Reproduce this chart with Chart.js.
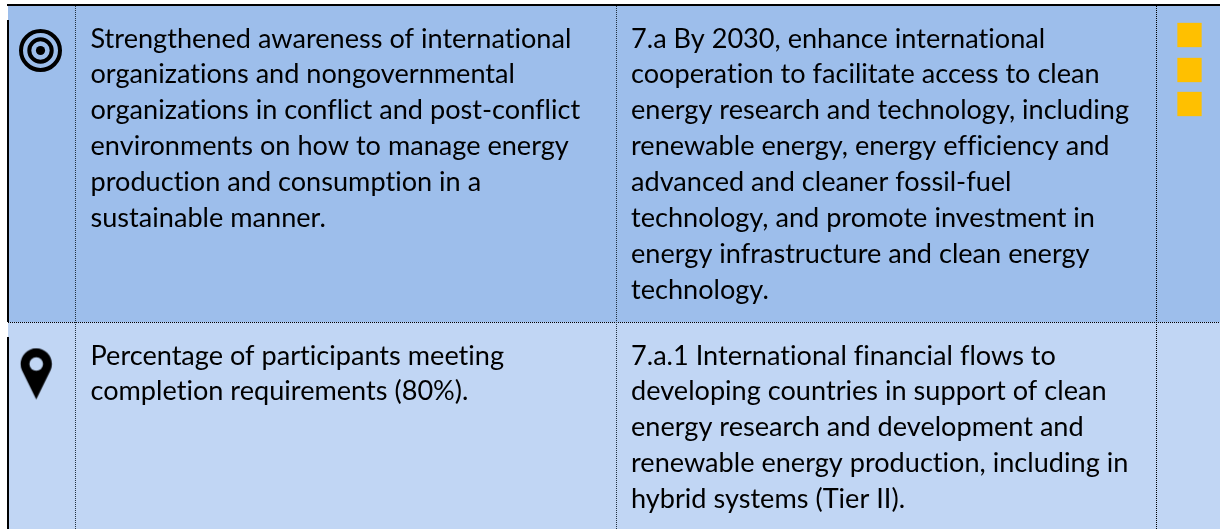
<!DOCTYPE html>
<html>
<head>
<meta charset="utf-8">
<style>
  html, body { margin: 0; padding: 0; background: #fff; }
  canvas { display: block; }
</style>
<script src="https://cdn.jsdelivr.net/npm/chart.js@4/dist/chart.umd.min.js"></script>
</head>
<body>
<canvas id="chart" width="1220" height="529"></canvas>
<script>
// text of the four cells
const goalLines = [
  'Strengthened awareness of international',
  'organizations and nongovernmental',
  'organizations in conflict and post-conflict',
  'environments on how to manage energy',
  'production and consumption in a',
  'sustainable manner.'
];
const targetLines = [
  '7.a By 2030, enhance international',
  'cooperation to facilitate access to clean',
  'energy research and technology, including',
  'renewable energy, energy efficiency and',
  'advanced and cleaner fossil-fuel',
  'technology, and promote investment in',
  'energy infrastructure and clean energy',
  'technology.'
];
const indicatorLines = [
  'Percentage of participants meeting',
  'completion requirements (80%).'
];
const targetIndicatorLines = [
  '7.a.1 International financial flows to',
  'developing countries in support of clean',
  'energy research and development and',
  'renewable energy production, including in',
  'hybrid systems (Tier II).'
];

// table grid, in picture units
const rowEdges = [6, 322.5, 529];
const columnEdges = [8, 75.5, 616.5, 1156.5, 1220];
const ratingX = [1189.5, 1189.5, 1189.5];
const ratingY = [35, 70, 104];

const COLOR_ROW_1 = '#9dbeeb';
const COLOR_ROW_2 = '#c1d6f4';
const COLOR_RATING = '#ffc000';
const LINE_HEIGHT = 35.95;

// pin icon used as a point style
function makePin() {
  const c = document.createElement('canvas');
  c.width = 33;
  c.height = 53;
  const p = c.getContext('2d');
  p.fillStyle = '#000';
  p.beginPath();
  p.arc(16.5, 16.5, 15.6, Math.PI * 0.87, Math.PI * 0.13);
  p.lineTo(16.5, 52);
  p.closePath();
  p.fill();
  p.globalCompositeOperation = 'destination-out';
  p.beginPath();
  p.arc(16.5, 16.5, 6.8, 0, Math.PI * 2);
  p.fill();
  return c;
}

function band(top, bottom, color) {
  return {
    data: [{ x: columnEdges[0], y: top }, { x: columnEdges[4], y: top }],
    showLine: true, pointRadius: 0, borderWidth: 0,
    fill: { value: bottom }, backgroundColor: color
  };
}

function rule(points, color, width, dash) {
  return {
    data: points.map(p => ({ x: p[0], y: p[1] })),
    showLine: true, pointRadius: 0, borderColor: color,
    borderWidth: width, borderDash: dash || [], fill: false
  };
}

const dots = [1, 1];
// first dataset is drawn on top, so the bands go last
const datasets = [
  // pin icon
  {
    data: [{ x: 36.2, y: 374 }],
    pointStyle: makePin(), pointRadius: 1
  },
  // target icon: two rings and a dot
  {
    data: [{ x: 40.5, y: 50.5 }],
    pointStyle: 'circle', pointRadius: 4.6, pointBorderWidth: 0,
    backgroundColor: '#000'
  },
  {
    data: [{ x: 40.5, y: 50.5 }, { x: 40.5, y: 50.5 }],
    pointStyle: 'circle', pointRadius: [19.5, 11.2], pointBorderWidth: 4,
    backgroundColor: 'rgba(0,0,0,0)', borderColor: '#000'
  },
  // rating squares
  {
    data: ratingX.map((x, i) => ({ x: x, y: ratingY[i] })),
    pointStyle: 'rect', pointRadius: 17.2, pointBorderWidth: 0,
    backgroundColor: COLOR_RATING
  },
  rule([[7, 5], [1220, 5]], '#000', 2),
  rule([[8, 20], [8, 322]], '#000', 2),
  rule([[8, 337], [8, 529]], '#000', 2),
  rule([[columnEdges[1], rowEdges[0]], [columnEdges[1], rowEdges[2]]], '#22303f', 1, dots),
  rule([[columnEdges[2], rowEdges[0]], [columnEdges[2], rowEdges[2]]], '#22303f', 1, dots),
  rule([[columnEdges[3], rowEdges[0]], [columnEdges[3], rowEdges[2]]], '#000', 1, dots),
  rule([[columnEdges[0], rowEdges[1]], [columnEdges[4], rowEdges[1]]], '#000', 1, dots),
  band(rowEdges[0], rowEdges[1], COLOR_ROW_1),
  band(rowEdges[1], rowEdges[2], COLOR_ROW_2)
];

const cellText = {
  id: 'cellText',
  afterDatasetsDraw(chart) {
    const { ctx, scales } = chart;
    ctx.save();
    ctx.fillStyle = '#000';
    ctx.font = '27.1px Lato';
    // a tiny spacing turns the ti / fl ligatures off
    ctx.letterSpacing = '0.01px';
    ctx.textBaseline = 'alphabetic';
    const put = (lines, x, y) => lines.forEach((line, i) => {
      ctx.fillText(line, scales.x.getPixelForValue(x), scales.y.getPixelForValue(y + i * LINE_HEIGHT));
    });
    put(goalLines, 90.5, 47.5);
    put(targetLines, 631, 47.5);
    put(indicatorLines, 90.5, 364.5);
    put(targetIndicatorLines, 631, 364.5);
    ctx.restore();
  }
};

new Chart(document.getElementById('chart'), {
  type: 'scatter',
  data: { datasets: datasets },
  options: {
    responsive: false,
    animation: false,
    layout: { padding: 0, autoPadding: false },
    clip: false,
    scales: {
      x: { type: 'linear', min: 0, max: 1220, display: false },
      y: { type: 'linear', min: 0, max: 529, reverse: true, display: false }
    },
    plugins: { legend: { display: false }, tooltip: { enabled: false } }
  },
  plugins: [cellText]
});
</script>
</body>
</html>
